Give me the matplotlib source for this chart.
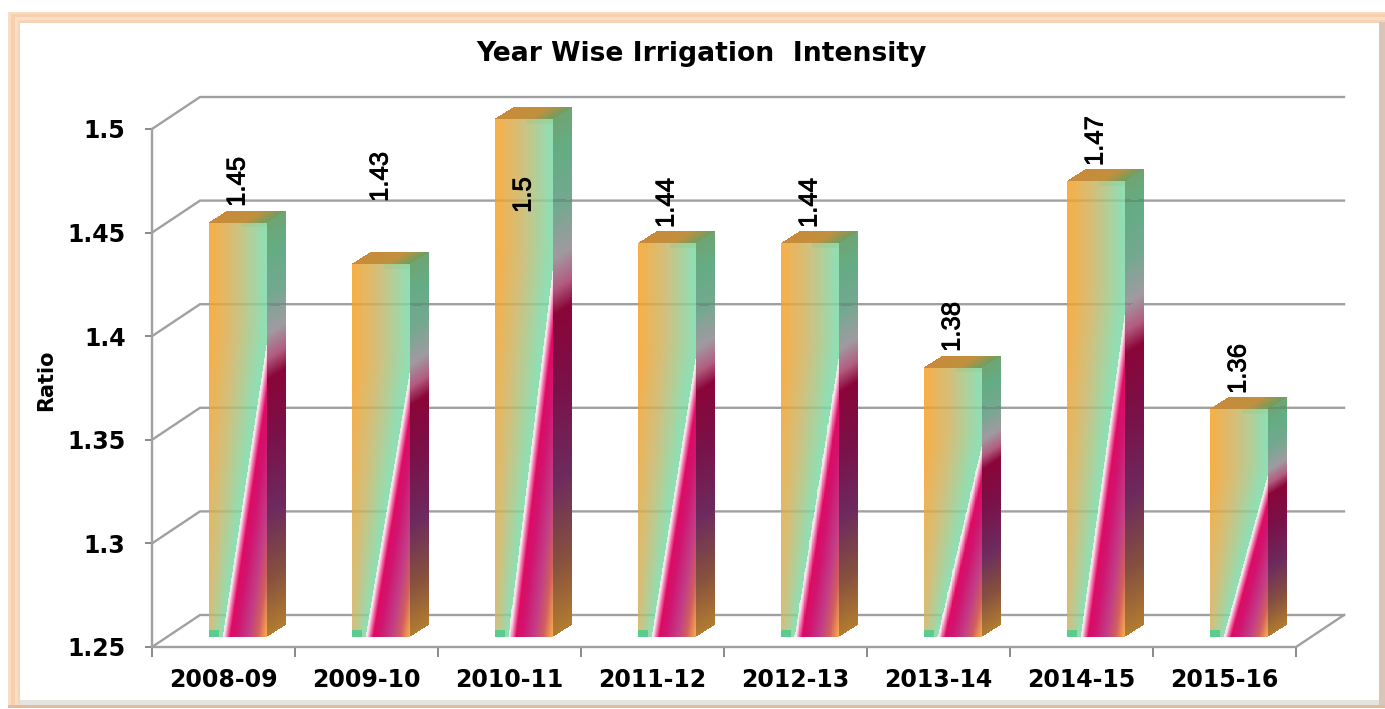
import numpy as np
import matplotlib
matplotlib.use("Agg")
import matplotlib.pyplot as plt
import matplotlib.patheffects as pe
from matplotlib.patches import Rectangle

categories = ["2008-09", "2009-10", "2010-11", "2011-12", "2012-13", "2013-14", "2014-15", "2015-16"]
values = [1.45, 1.43, 1.5, 1.44, 1.44, 1.38, 1.47, 1.36]
value_labels = ["1.45", "1.43", "1.5", "1.44", "1.44", "1.38", "1.47", "1.36"]
label_bottoms = [1.4624, 1.4648, 1.4595, 1.4522, 1.4522, 1.3924, 1.4821, 1.3721]
y_ticks = [1.25, 1.3, 1.35, 1.4, 1.45, 1.5]
y_tick_labels = ["1.25", "1.3", "1.35", "1.4", "1.45", "1.5"]
title = "Year Wise Irrigation  Intensity"
y_title = "Ratio"

W, H = 1385, 709
L, R, T, B = 152, 1296, 129, 647
PX = 8 / (R - L)
PY = 0.25 / (B - T)
YMIN = 1.25


def hexc(s):
    return np.array([int(s[i:i + 2], 16) / 255 for i in (1, 3, 5)])


def ramp(t, stops):
    xs = [s[0] for s in stops]
    cs = np.array([hexc(s[1]) for s in stops])
    return np.stack([np.interp(t, xs, cs[:, k]) for k in range(3)], axis=-1)


def unblend(rgb, a):
    a = np.asarray(a)[..., None]
    return np.concatenate([np.clip((rgb - (1 - a)) / a, 0, 1), a], axis=-1)


LEFT_STOPS = [(0, "#F9AE45"), (0.5, "#D2C07C"), (1, "#93DDB2")]
WEDGE_STOPS = [(0, "#DDF3E2"), (0.025, "#FFE0EE"), (0.07, "#F27AB0"), (0.13, "#DE0A62"),
               (0.24, "#D01470"), (0.44, "#C23C86"), (0.6, "#D0605E"), (0.74, "#F5A450")]
SIDE_STOPS = [(0, "#B27C30"), (0.14, "#85503E"), (0.3, "#6C2A5E"), (0.48, "#7A1048"),
              (0.62, "#8A0538"), (0.67, "#B25C80"), (0.73, "#A09AA0"), (0.82, "#74A890"),
              (0.93, "#64AC84"), (1, "#6FA472")]

fig = plt.figure(figsize=(W / 100, H / 100), dpi=100, facecolor="white")

# frame
bg = fig.add_axes([0, 0, 1, 1], zorder=0)
bg.set_xlim(0, W)
bg.set_ylim(H, 0)
bg.axis("off")
for (x0, y0, x1, y1, c) in [
    (8, 12, 1385, 708, "#F8DCC4"),
    (11, 14, 1385, 706, "#F7CFAC"),
    (15, 17, 1385, 706, "#FBDFC4"),
    (18, 20, 1385, 705, "#F5D4B8"),
    (20, 23, 1385, 705, "#FFFFFF"),
]:
    bg.add_patch(Rectangle((x0, y0), x1 - x0, y1 - y0, fc=c, ec="none"))
bg.add_patch(Rectangle((1379, 22), 6, 686, fc="#D9C6B6", ec="none"))
bg.add_patch(Rectangle((20, 700), 1359, 5, fc="#E6E4E0", ec="none"))
bg.add_patch(Rectangle((8, 705), 1377, 3, fc="#DFBCA0", ec="none"))

ax = fig.add_axes([L / W, (H - B) / H, (R - L) / W, (B - T) / H], zorder=1)
ax.patch.set_alpha(0)
ax.set_xlim(0, 8)
ax.set_ylim(YMIN, 1.5)

GRID = "#A0A0A0"
LW = 1.7
DX, DY = 48 * PX, 32 * PY
for v in y_ticks:
    ax.plot([0, DX, 8 + DX], [v, v + DY, v + DY], color=GRID, lw=LW, clip_on=False, zorder=1,
            solid_joinstyle="miter")
ax.plot([8, 8 + DX], [YMIN, YMIN + DY], color=GRID, lw=LW, clip_on=False, zorder=1)

BW = 58 * PX
OX, OY = 14 * PX - BW / 2, 10 * PY
SX, SY = 19 * PX, 12 * PY
for i, v in enumerate(values):
    x0 = i + 0.5 + OX
    y0 = YMIN + OY
    h = v - YMIN
    nu, nv = 116, max(int(h / PY * 1.5), 10)
    u_e = np.linspace(0, 1, nu + 1)
    v_e = np.linspace(0, 1, nv + 1)
    ue, ve = np.meshgrid(u_e, v_e)
    uc, vc = np.meshgrid((u_e[:-1] + u_e[1:]) / 2, (v_e[:-1] + v_e[1:]) / 2)

    # front face
    s = np.clip(vc / 0.71, 0, 1)
    ud = 0.24 + 0.76 * vc / 0.71
    t0 = 0.45 * (1 - s)
    t = t0 + (1 - t0) * uc / (0.9 * np.minimum(ud, 1.05))
    rgb = ramp(np.clip(t, 0, 1), LEFT_STOPS)
    wedge = uc > ud
    rgb[wedge] = ramp(uc[wedge] - ud[wedge], WEDGE_STOPS)
    block = (vc * h / PY < 7) & (uc < 0.17)
    rgb[block] = hexc("#5CCB8E")
    tip = (vc * h / PY > h / PY - 5) & (uc > 0.55)
    rgb[tip] = rgb[tip] * 0.8 + hexc("#8CC070") * 0.2
    alpha = np.where(wedge, 1.0, 0.84)
    ax.pcolormesh(x0 + ue * BW, y0 + ve * h, unblend(rgb, alpha), shading="flat",
                  clip_on=False, zorder=3, antialiased=False, linewidth=0)

    # side face: opaque, the wall's grid lines are mixed in where they show through
    side_rgb = ramp(vc, SIDE_STOPS)
    yc = y0 + vc * h + uc * SY
    for gv in y_ticks:
        line = (np.abs(yc - (gv + DY)) < 1.3 * PY) & (vc > 0.72)
        side_rgb[line] = side_rgb[line] * 0.75 + hexc("#505050") * 0.25
    ax.pcolormesh(x0 + BW + ue * SX, y0 + ve * h + ue * SY, side_rgb,
                  shading="flat", clip_on=False, zorder=3, antialiased=False, linewidth=0)

    # top face
    top_rgb = ramp(uc, [(0, "#C88A3A"), (0.6, "#C0903E"), (1, "#6E9E60")])
    ax.pcolormesh(x0 + ue * BW + ve * SX, y0 + h + ve * SY, top_rgb, shading="flat",
                  clip_on=False, zorder=3, antialiased=False, linewidth=0)

    ax.text(i + 0.5 + 14 * PX, label_bottoms[i], value_labels[i], rotation=90, ha="center", va="bottom",
            fontsize=18.5, family="Liberation Sans", color="black", clip_on=False, zorder=5,
            path_effects=[pe.withStroke(linewidth=0.6, foreground="black")])

for sp in ("top", "right"):
    ax.spines[sp].set_visible(False)
for sp in ("left", "bottom"):
    ax.spines[sp].set_color(GRID)
    ax.spines[sp].set_linewidth(LW)
ax.set_yticks(y_ticks)
ax.set_yticklabels(y_tick_labels, fontsize=17, fontweight="bold", color="black")
ax.set_xticks(range(9))
ax.set_xticklabels([])
ax.set_xticks(np.arange(8) + 0.5, minor=True)
ax.set_xticklabels(categories, minor=True, fontsize=17, fontweight="bold", color="black")
ax.tick_params(axis="y", length=5, width=1.3, color="#808080", pad=14)
ax.tick_params(axis="x", which="major", length=7, width=1.3, color="#808080")
ax.tick_params(axis="x", which="minor", length=0, pad=15)

fig.text(702 / W, 1 - 54 / H, title, ha="center", va="center", fontsize=19.2, fontweight="bold", color="black")
fig.text(46 / W, 1 - 380 / H, y_title, ha="center", va="center", rotation=90, fontsize=15,
         fontweight="bold", color="black")

fig.savefig("out.png", dpi=100)
